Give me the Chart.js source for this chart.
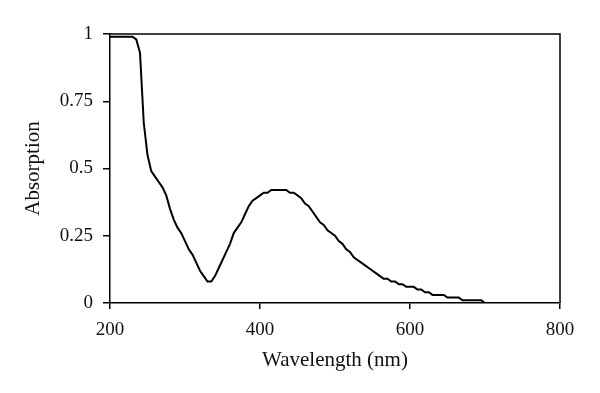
<!DOCTYPE html>
<html>
<head>
<meta charset="utf-8">
<script src="https://cdn.jsdelivr.net/npm/chart.js@4"></script>
<style>
  html, body { margin: 0; padding: 0; background: #fff; }
  #wrap { width: 600px; height: 393px; }
</style>
</head>
<body>
<div id="wrap"><canvas id="absChart"></canvas></div>
<script>
// Wavelength (nm) and absorption
const wavelengths = [
    200, 205, 210, 215, 220, 225, 230, 235, 240, 245,
    250, 255, 260, 265, 270, 275, 280, 285, 290, 295,
    300, 305, 310, 315, 320, 325, 330, 335, 340, 345,
    350, 355, 360, 365, 370, 375, 380, 385, 390, 395,
    400, 405, 410, 415, 420, 425, 430, 435, 440, 445,
    450, 455, 460, 465, 470, 475, 480, 485, 490, 495,
    500, 505, 510, 515, 520, 525, 530, 535, 540, 545,
    550, 555, 560, 565, 570, 575, 580, 585, 590, 595,
    600, 605, 610, 615, 620, 625, 630, 635, 640, 645,
    650, 655, 660, 665, 670, 675, 680, 685, 690, 695,
    700, 800
];
const absorption = [
    0.99, 0.99, 0.99, 0.99, 0.99, 0.99, 0.99, 0.98, 0.93, 0.67,
    0.55, 0.49, 0.47, 0.45, 0.43, 0.40, 0.35, 0.31, 0.28, 0.26,
    0.23, 0.20, 0.18, 0.15, 0.12, 0.10, 0.08, 0.08, 0.10, 0.13,
    0.16, 0.19, 0.22, 0.26, 0.28, 0.30, 0.33, 0.36, 0.38, 0.39,
    0.40, 0.41, 0.41, 0.42, 0.42, 0.42, 0.42, 0.42, 0.41, 0.41,
    0.40, 0.39, 0.37, 0.36, 0.34, 0.32, 0.30, 0.29, 0.27, 0.26,
    0.25, 0.23, 0.22, 0.20, 0.19, 0.17, 0.16, 0.15, 0.14, 0.13,
    0.12, 0.11, 0.10, 0.09, 0.09, 0.08, 0.08, 0.07, 0.07, 0.06,
    0.06, 0.06, 0.05, 0.05, 0.04, 0.04, 0.03, 0.03, 0.03, 0.03,
    0.02, 0.02, 0.02, 0.02, 0.01, 0.01, 0.01, 0.01, 0.01, 0.01,
    0, 0
];
const xTicks = [200, 400, 600, 800];
const yTicks = [0, 0.25, 0.5, 0.75, 1];

const serif = '"Liberation Serif", "DejaVu Serif", serif';

// draws the top and right sides of the plot frame
const frameBox = {
    id: 'frameBox',
    afterDraw(chart) {
        const a = chart.chartArea;
        const ctx = chart.ctx;
        ctx.save();
        ctx.strokeStyle = '#000';
        ctx.lineWidth = 1.5;
        ctx.beginPath();
        ctx.moveTo(a.left, a.top);
        ctx.lineTo(a.right, a.top);
        ctx.lineTo(a.right, a.bottom);
        ctx.stroke();
        ctx.restore();
    }
};

new Chart(document.getElementById('absChart'), {
    type: 'line',
    data: {
        datasets: [{
            data: wavelengths.map((w, i) => ({ x: w, y: absorption[i] })),
            borderColor: '#000',
            borderWidth: 2,
            pointRadius: 0,
            tension: 0,
            fill: false
        }]
    },
    options: {
        responsive: true,
        maintainAspectRatio: false,
        animation: false,
        layout: { padding: { top: 34, right: 40, left: 0, bottom: 0 } },
        plugins: {
            legend: { display: false },
            tooltip: { enabled: false }
        },
        scales: {
            x: {
                type: 'linear',
                min: 200,
                max: 800,
                afterBuildTicks: s => { s.ticks = xTicks.map(v => ({ value: v })); },
                afterFit: s => { s.height = 90; },
                border: { color: '#000', width: 1.5 },
                grid: { drawOnChartArea: false, color: '#000', tickLength: 6, lineWidth: 1.5 },
                ticks: {
                    color: '#111',
                    padding: 10,
                    maxRotation: 0,
                    font: { family: serif, size: 19 },
                    callback: v => String(v)
                },
                title: {
                    display: true,
                    text: 'Wavelength (nm)',
                    color: '#111',
                    padding: { top: 4, bottom: 20 },
                    font: { family: serif, size: 21 }
                }
            },
            y: {
                min: 0,
                max: 1,
                afterBuildTicks: s => { s.ticks = yTicks.map(v => ({ value: v })); },
                afterFit: s => { s.width = 110; },
                border: { color: '#000', width: 1.5 },
                grid: { drawOnChartArea: false, color: '#000', tickLength: 7, lineWidth: 1.5 },
                ticks: {
                    color: '#111',
                    padding: 10,
                    font: { family: serif, size: 19 },
                    callback: v => String(v)
                },
                title: {
                    display: true,
                    text: 'Absorption',
                    color: '#111',
                    padding: { top: 21 },
                    font: { family: serif, size: 21 }
                }
            }
        }
    },
    plugins: [frameBox]
});
</script>
</body>
</html>
